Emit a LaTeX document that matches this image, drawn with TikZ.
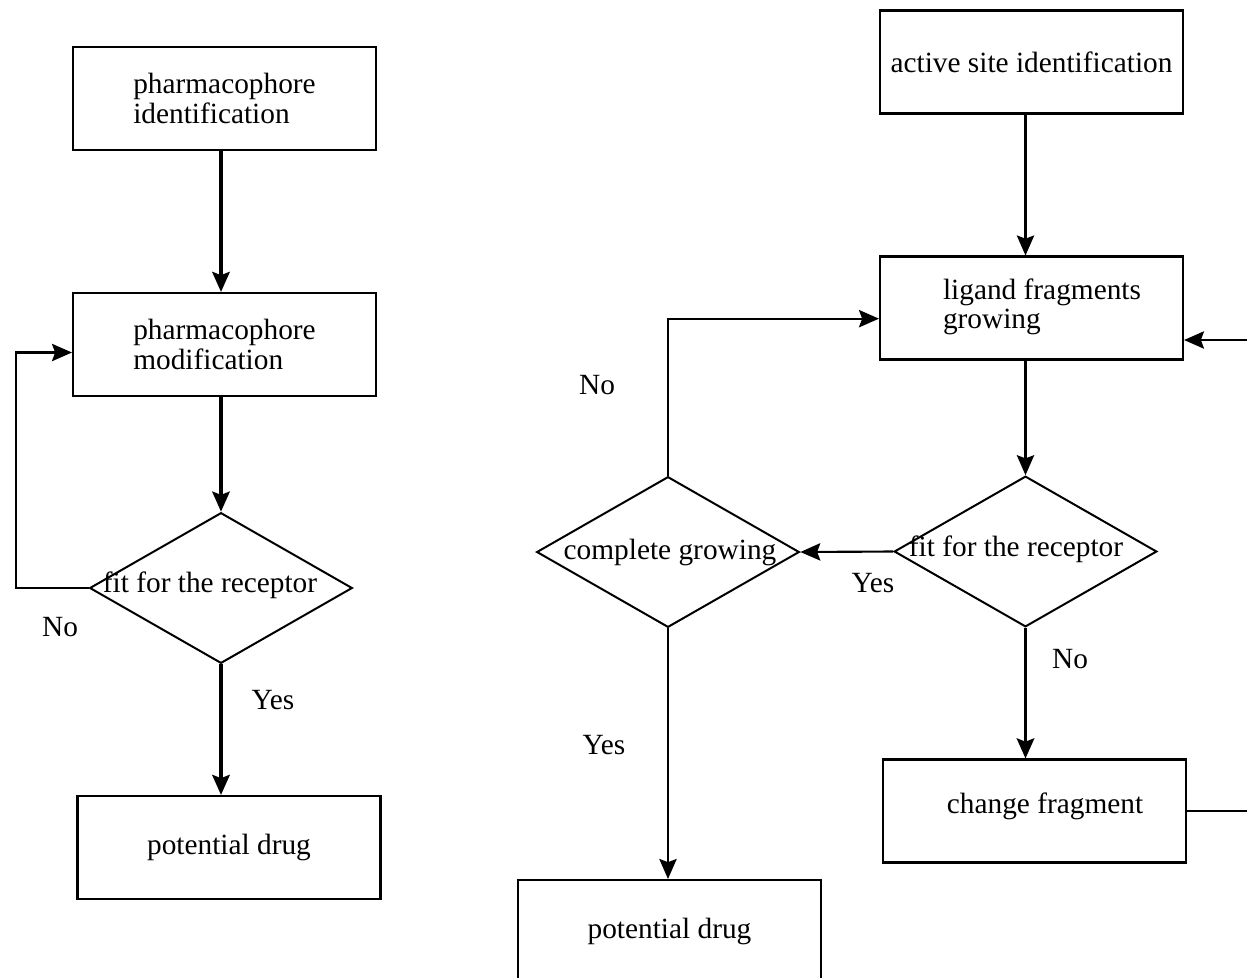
\documentclass[tikz,border=0pt]{standalone}
\usepackage{fontspec}
\setmainfont{Liberation Serif}
\usetikzlibrary{positioning}
\usetikzlibrary{arrows.meta,shapes}
\usetikzlibrary{calc}
\tikzstyle{box}=[rectangle,draw,line width=0.8pt,minimum width=113.6pt,minimum height=38.6pt,inner sep=0pt,align=left,font=\fontsize{11}{11.3}\selectfont]
\tikzstyle{decision}=[diamond,draw,line width=0.75pt,minimum width=98.5pt,minimum height=56.5pt,inner sep=0pt]
\tikzstyle{edge} = [draw,line width=0.8pt,-{Stealth[length=7.5pt,width=6.5pt,inset=1.2pt]}]
\tikzstyle{thickedge} = [draw,line width=1.4pt,-{Stealth[length=7.5pt,width=6.5pt,inset=1.2pt]}]
\tikzstyle{weight} = [font=\fontsize{11}{11}\selectfont]

\begin{document}
\begin{tikzpicture}[x=0.375pt,y=-0.375pt]
\useasboundingbox (0,0) rectangle (1247,977);
\clip (0,0) rectangle (1247,977);

%pharmacophore side
    \node[box] (ident) at (224.5,98.5) {pharmacophore\\identification};
    \node[box] (modif) at (224.5,344.5) {pharmacophore\\modification};
    \node[decision] (fitA) at (221,588) {};
    \node[weight] (fitAtext) at (210,585) {fit for the receptor};
    \node[box] (drugA) at (229,847.5) {potential drug};

%growing side
    \node[box] (site) at (1031.5,62) {active site identification};
    \node[box] (grow) at (1031.5,308) {};
    \node[weight,align=left] (growtext) at (1042,307) {ligand fragments\\growing};
    \node[decision] (fitB) at (1025.5,551.5) {};
    \node[weight] (fitBtext) at (1016,549) {fit for the receptor};
    \node[decision] (compl) at (668,552) {};
    \node[weight] (compltext) at (670,552) {complete growing};
    \node[box] (change) at (1034.5,811) {};
    \node[weight] (changetext) at (1045,806) {change fragment};
    \node[box] (drugB) at (669.5,931.5) {potential drug};

    % answers
    \foreach \pos/\name/\label in {{(60,627)/noA/No}, {(273,700)/yesA/Yes}, {(597,385)/noB/No}, {(873,583)/yesB/Yes}, {(604,745)/yesC/Yes}, {(1070,659)/noC/No}}
        \node[weight] (\name) at \pos {\label};

    % Connect boxes, straight down from the diamond tips
   \path[thickedge] (fitA.north |- ident.south) -- (fitA.north |- modif.north);
   \path[thickedge] (fitA.north |- modif.south) -- (fitA.north);
   \path[thickedge] (fitA.south) -- (fitA.south |- drugA.north);
   \path[thickedge] (fitB.south) -- (fitB.south |- change.north);
   \path[edge] (fitB.north |- site.south) -- (fitB.north |- grow.north);
   \path[edge] (fitB.north |- grow.south) -- (fitB.north);
   \path[edge] (compl.south) -- (compl.south |- drugB.north);

   \path[edge] (fitB.west) -- (compl.east);
   \path[edge] (fitA.west) -- ++(-73,0) |- ([yshift=-3pt]modif.west);
   \path[edge] (compl.north) |- ([yshift=-4pt]grow.west);
   \path[edge] (change.east) -- ++(80,0) |- ([yshift=-12pt]grow.east);

\end{tikzpicture}
\end{document}
